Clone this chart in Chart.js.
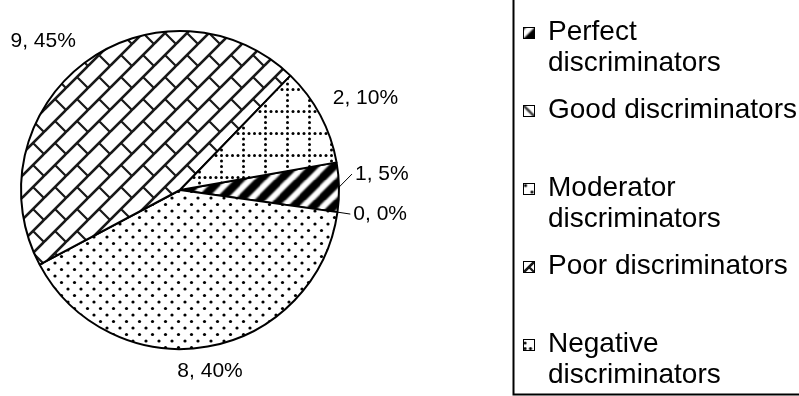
<!DOCTYPE html>
<html>
<head>
<meta charset="utf-8">
<script src="https://cdn.jsdelivr.net/npm/chart.js@4.4.1/dist/chart.umd.min.js"></script>
<style>
    html, body { margin: 0; padding: 0; background: #fff; }
    #grafico { display: block; }
</style>
</head>
<body>
<canvas id="grafico" width="799" height="396"></canvas>
<script>
// discrimination index groups, in drawing order (clockwise)
var categories = ['Perfect discriminators', 'Good discriminators', 'Moderator discriminators', 'Poor discriminators', 'Negative discriminators'];
var legendLines = [['Perfect', 'discriminators'], ['Good discriminators'], ['Moderator', 'discriminators'], ['Poor discriminators'], ['Negative', 'discriminators']];
var itemCounts = [1, 0, 8, 9, 2];

var FONT = "'Liberation Sans', Arial, sans-serif";

// builds a repeating fill; the tile is drawn 3x3 so blurred strokes wrap cleanly
function makePattern(w, h, blur, draw) {
    var big = document.createElement('canvas');
    big.width = w * 3;
    big.height = h * 3;
    var b = big.getContext('2d');
    b.fillStyle = '#fff';
    b.fillRect(0, 0, big.width, big.height);
    b.filter = 'blur(' + blur + 'px)';
    for (var i = 0; i < 3; i++) {
        for (var j = 0; j < 3; j++) {
            b.save();
            b.translate(i * w, j * h);
            draw(b, w, h);
            b.restore();
        }
    }
    var tile = document.createElement('canvas');
    tile.width = w;
    tile.height = h;
    var t = tile.getContext('2d');
    t.drawImage(big, w, h, w, h, 0, 0, w, h);
    return t.createPattern(tile, 'repeat');
}

function dot(g, x, y, r) {
    g.beginPath();
    g.arc(x, y, r, 0, Math.PI * 2);
    g.fill();
}

var fills = [
    // wide upward diagonal
    makePattern(20, 20, 0.9, function (g, w, h) {
        g.strokeStyle = '#000';
        g.lineWidth = 6.5;
        g.beginPath();
        g.moveTo(-w, 2 * h);
        g.lineTo(2 * w, -h);
        g.stroke();
    }),
    // downward diagonal
    makePattern(20, 20, 0.6, function (g, w, h) {
        g.strokeStyle = '#444';
        g.lineWidth = 2.2;
        g.beginPath();
        g.moveTo(-w, -h);
        g.lineTo(2 * w, 2 * h);
        g.stroke();
    }),
    // dotted
    makePattern(13, 13, 0.4, function (g, w, h) {
        g.fillStyle = '#000';
        dot(g, 3, 3, 1.6);
        dot(g, 9.5, 9.5, 1.6);
    }),
    // diagonal brick
    makePattern(22, 22, 0.7, function (g, w, h) {
        g.strokeStyle = '#1a1a1a';
        g.lineWidth = 2.2;
        g.beginPath();
        g.moveTo(-w, 2 * h);
        g.lineTo(2 * w, -h);
        g.moveTo(w / 2, h / 2);
        g.lineTo(w, h);
        g.stroke();
    }),
    // dotted grid
    makePattern(22, 22, 0.4, function (g, w, h) {
        g.fillStyle = '#000';
        for (var i = 0; i < 4; i++) {
            dot(g, 1.5 + i * 5.5, 1.5, 1.5);
            if (i > 0) dot(g, 1.5, 1.5 + i * 5.5, 1.5);
        }
    })
];

// where each legend swatch picks up its pattern
var swatchShift = [[-1.5, -1.5], [0, 0], [-1, -1], [-5.5, -5.5], [0, 7.5]];

// "count, percent%" beside each slice, with leader lines where labels get pushed apart
var sliceLabels = {
    id: 'sliceLabels',
    afterDatasetsDraw: function (chart) {
        var ctx = chart.ctx;
        var meta = chart.getDatasetMeta(0);
        var data = chart.data.datasets[0].data;
        var total = data.reduce(function (a, b) { return a + b; }, 0);
        var pad = 14;
        var minGap = 40;
        var items = [];

        meta.data.forEach(function (arc, i) {
            var p = arc.getProps(['x', 'y', 'startAngle', 'endAngle', 'outerRadius'], true);
            var mid = (p.startAngle + p.endAngle) / 2;
            var c = Math.cos(mid), s = Math.sin(mid);
            items.push({
                text: data[i] + ', ' + Math.round(data[i] / total * 100) + '%',
                ex: p.x + c * p.outerRadius,
                ey: p.y + s * p.outerRadius,
                x: p.x + c * (p.outerRadius + pad),
                y: p.y + s * (p.outerRadius + pad),
                align: c > 0.35 ? 'left' : (c < -0.35 ? 'right' : 'center'),
                base: s > 0.35 ? 'top' : (s < -0.35 ? 'bottom' : 'middle'),
                leader: false
            });
        });

        // side labels that sit too close: keep the lower one, lift the upper one
        var side = items.filter(function (it) { return it.base === 'middle'; })
            .sort(function (a, b) { return b.y - a.y; });
        for (var k = 1; k < side.length; k++) {
            if (side[k].align === side[k - 1].align && side[k - 1].y - side[k].y < minGap) {
                side[k].y = side[k - 1].y - minGap;
                side[k].leader = true;
                side[k - 1].leader = true;
            }
        }

        ctx.save();
        ctx.font = '21px ' + FONT;
        ctx.fillStyle = '#000';
        ctx.strokeStyle = '#000';
        ctx.lineWidth = 1;
        items.forEach(function (it) {
            if (it.leader) {
                ctx.beginPath();
                ctx.moveTo(it.ex, it.ey);
                ctx.lineTo(it.x - 1, it.y);
                ctx.stroke();
            }
            ctx.textAlign = it.align;
            ctx.textBaseline = it.base;
            ctx.fillText(it.text, it.align === 'left' && it.leader ? it.x + 2 : it.x, it.y);
        });
        ctx.restore();
    }
};

// framed legend on the right, two text lines per entry
var sideLegend = {
    id: 'sideLegend',
    afterDraw: function (chart) {
        var ctx = chart.ctx;
        var boxLeft = 513.5, boxBottom = 394.5;
        var firstY = 32, slot = 78, lineH = 31;
        var swatchX = 523, swatch = 11, textX = 548;

        ctx.save();
        ctx.strokeStyle = '#000';
        ctx.lineWidth = 2;
        ctx.strokeRect(boxLeft, -10, 400, boxBottom + 10);

        ctx.font = '28px ' + FONT;
        ctx.fillStyle = '#000';
        ctx.textAlign = 'left';
        ctx.textBaseline = 'middle';

        legendLines.forEach(function (lines, i) {
            var y = firstY + i * slot;
            var sy = Math.round(y - swatch / 2) + 0.5;

            ctx.save();
            ctx.translate(swatchX + 0.5, sy);
            ctx.save();
            ctx.translate(swatchShift[i][0], swatchShift[i][1]);
            ctx.fillStyle = fills[i];
            ctx.fillRect(-swatchShift[i][0], -swatchShift[i][1], swatch, swatch);
            ctx.restore();
            ctx.lineWidth = 1;
            ctx.strokeRect(0, 0, swatch, swatch);
            ctx.restore();

            lines.forEach(function (line, j) {
                ctx.fillText(line, textX, y + j * lineH);
            });
        });
        ctx.restore();
    }
};

var chartCtx = document.getElementById('grafico').getContext('2d');

new Chart(chartCtx, {
    type: 'pie',
    data: {
        labels: categories,
        datasets: [{
            data: itemCounts,
            backgroundColor: fills,
            borderColor: '#000',
            borderWidth: 2
        }]
    },
    options: {
        responsive: false,
        animation: false,
        events: [],
        rotation: 80,
        layout: { padding: { left: 20, top: 30, right: 459, bottom: 46 } },
        plugins: {
            legend: { display: false },
            tooltip: { enabled: false }
        }
    },
    plugins: [sliceLabels, sideLegend]
});
</script>
</body>
</html>
